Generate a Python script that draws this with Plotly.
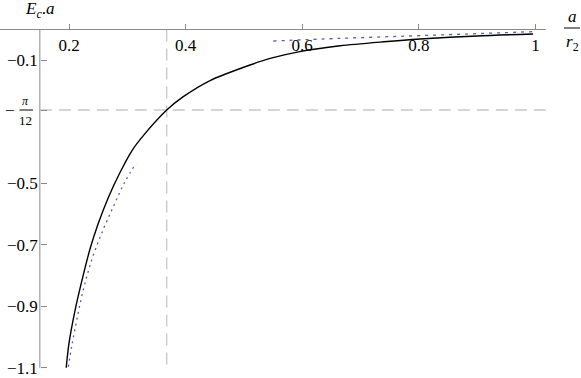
import math
import plotly.graph_objects as go

# ---- data ----
exact_x = [0.1952, 0.200, 0.2103, 0.2217, 0.236, 0.250, 0.2675, 0.2875, 0.3086, 0.3275,
           0.3676, 0.396, 0.442, 0.5105, 0.545, 0.596, 0.665, 0.740, 0.802, 0.900,
           0.996]
exact_y = [-1.100, -1.020, -0.914, -0.820, -0.714, -0.632, -0.546, -0.465, -0.392, -0.345,
           -0.262, -0.2185, -0.166, -0.1154, -0.094, -0.072, -0.053, -0.040, -0.031, -0.021,
           -0.0146]

small_x = [0.1989, 0.2046, 0.2132, 0.2245, 0.2389, 0.2560, 0.276, 0.296, 0.3149]
small_y = [-1.097, -1.031, -0.945, -0.847, -0.750, -0.663, -0.576, -0.495, -0.435]

large_x = [0.5505, 0.665, 0.802, 0.996]
large_y = [-0.0374, -0.0287, -0.020, -0.007]

x_ticks = [0.2, 0.4, 0.6, 0.8, 1.0]
x_tick_text = ["0.2", "0.4", "0.6", "0.8", "1"]
y_ticks = [-0.1, -math.pi / 12, -0.5, -0.7, -0.9, -1.1]
y_tick_text = ["\u22120.1", " ", "\u22120.5", "\u22120.7", "\u22120.9", "\u22121.1"]

x_mark = 0.3676          # vertical reference line
y_mark = -math.pi / 12   # horizontal reference line
x_origin = 0.15          # where the y axis crosses
x_end = 1.018
y_bottom = -1.1

# ---- figure geometry ----
W, H = 581, 378
px_per_x = 583.0
px_per_y = 307.5
x0_px, x0_val = 69.0, 0.2
y0_px = 29.5
x_range = [x0_val - x0_px / px_per_x, x0_val + (W - x0_px) / px_per_x]
y_range = [-(H - y0_px) / px_per_y, y0_px / px_per_y]

FONT = "Liberation Serif"
AXIS_COL = "#8a8a8a"
DASH_COL = "#c8c8c8"
BLUE = "#5a5ab4"

fig = go.Figure()

# reference dashed lines
fig.add_trace(go.Scatter(x=[x_origin, x_end], y=[y_mark, y_mark], mode="lines",
                         line=dict(color=DASH_COL, width=1.3, dash="12px,7px"),
                         hoverinfo="skip", showlegend=False))
fig.add_trace(go.Scatter(x=[x_mark, x_mark], y=[0, y_bottom], mode="lines",
                         line=dict(color=DASH_COL, width=1.3, dash="12px,7px"),
                         hoverinfo="skip", showlegend=False))

# axis lines
fig.add_trace(go.Scatter(x=[x_range[0], x_end], y=[0, 0], mode="lines",
                         line=dict(color=AXIS_COL, width=1),
                         hoverinfo="skip", showlegend=False))
fig.add_trace(go.Scatter(x=[x_origin, x_origin], y=[0, y_bottom], mode="lines",
                         line=dict(color=AXIS_COL, width=1),
                         hoverinfo="skip", showlegend=False))

# curves
fig.add_trace(go.Scatter(x=exact_x, y=exact_y, mode="lines",
                         line=dict(color="black", width=1.4, shape="spline", smoothing=0.8),
                         showlegend=False))
fig.add_trace(go.Scatter(x=small_x, y=small_y, mode="lines",
                         line=dict(color=BLUE, width=1.3, dash="2px,4px", shape="spline"),
                         showlegend=False))
fig.add_trace(go.Scatter(x=large_x, y=large_y, mode="lines",
                         line=dict(color=BLUE, width=1.3, dash="3px,5px", shape="spline"),
                         showlegend=False))

fig.update_layout(
    width=W, height=H,
    margin=dict(l=0, r=0, t=0, b=0),
    paper_bgcolor="white", plot_bgcolor="white",
    font=dict(family=FONT, size=17, color="black"),
    xaxis=dict(range=x_range, showgrid=False, zeroline=False, showline=False,
               anchor="free", position=(H - y0_px) / H, side="bottom",
               tickvals=x_ticks, ticktext=x_tick_text,
               ticks="inside", ticklen=6, tickcolor=AXIS_COL, tickwidth=1,
               ticklabelstandoff=3,
               tickfont=dict(family=FONT, size=17, color="black")),
    yaxis=dict(range=y_range, showgrid=False, zeroline=False, showline=False,
               anchor="free", position=(x0_px - (x0_val - x_origin) * px_per_x) / W,
               tickvals=y_ticks, ticktext=y_tick_text,
               ticks="inside", ticklen=6, tickcolor=AXIS_COL, tickwidth=1,
               ticklabelstandoff=2,
               tickfont=dict(family=FONT, size=17, color="black")),
)

# -pi/12 tick label as a fraction
fig.add_annotation(x=x_origin, y=y_mark, xref="x", yref="y", text="\u2212",
                   showarrow=False, xanchor="right", yanchor="middle",
                   xshift=-23, font=dict(family=FONT, size=17))
fig.add_annotation(x=x_origin, y=y_mark, xref="x", yref="y", text="<i>\u03c0</i>",
                   showarrow=False, xanchor="center", yanchor="bottom",
                   xshift=-14, yshift=0, font=dict(family=FONT, size=12))
fig.add_annotation(x=x_origin, y=y_mark, xref="x", yref="y", text="12",
                   showarrow=False, xanchor="center", yanchor="top",
                   xshift=-14, yshift=-1, font=dict(family=FONT, size=13))
fig.add_shape(type="line", xref="paper", yref="y",
              x0=19.5 / W, x1=33 / W, y0=y_mark, y1=y_mark,
              line=dict(color="black", width=1))

# axis labels
fig.add_annotation(x=40 / W, y=1 - 10 / H, xref="paper", yref="paper",
                   text="<i>E</i><sub><i>c</i></sub>.<i>a</i>", showarrow=False,
                   xanchor="center", yanchor="middle", font=dict(family=FONT, size=17))
fig.add_annotation(x=572 / W, y=1 - 28 / H, xref="paper", yref="paper",
                   text="<i>a</i>", showarrow=False,
                   xanchor="center", yanchor="bottom", font=dict(family=FONT, size=17))
fig.add_annotation(x=572 / W, y=1 - 30 / H, xref="paper", yref="paper",
                   text="<i>r</i><sub>2</sub>", showarrow=False,
                   xanchor="center", yanchor="top", font=dict(family=FONT, size=17))
fig.add_shape(type="line", xref="paper", yref="paper",
              x0=564 / W, x1=580 / W, y0=1 - 28 / H, y1=1 - 28 / H,
              line=dict(color="black", width=1))

fig.write_html("out.html",
               config={"displayModeBar": False},
               post_script="document.body.style.margin='0';document.body.style.overflow='hidden';")
